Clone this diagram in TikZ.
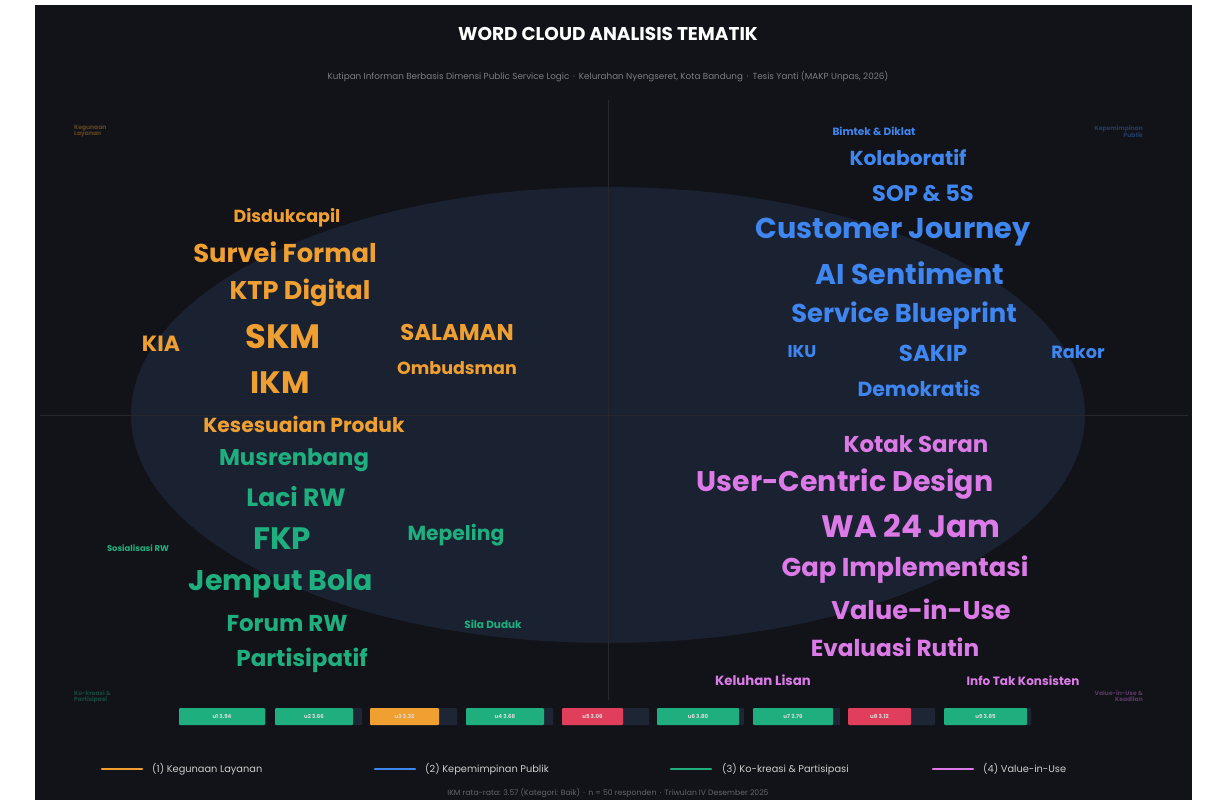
\documentclass[tikz,border=0pt]{standalone}
\usepackage{fontspec}
\setmainfont{Poppins}
\newcommand\myfs[1]{\bfseries\fontsize{#1}{#1}\selectfont}
\definecolor{bgc}{HTML}{121318}
\definecolor{ellc}{HTML}{1A2131}
\definecolor{orc}{HTML}{F0A030}
\definecolor{blc}{HTML}{3F86F0}
\definecolor{grc}{HTML}{1FAE7E}
\definecolor{pkc}{HTML}{DC7BE8}
\definecolor{rdc}{HTML}{E03E5A}
\definecolor{trk}{HTML}{1E2636}
\tikzset{
  wor/.style={text=orc, inner sep=0pt},
  wbl/.style={text=blc, inner sep=0pt},
  wgr/.style={text=grc, inner sep=0pt},
  wpk/.style={text=pkc, inner sep=0pt},
  qline/.style={draw=white!9!bgc, line width=0.6pt},
  track/.style={fill=trk, rounded corners=1pt},
  barlab/.style={text=white!85!black, font=\myfs{5.5}, inner sep=0pt},
  legline/.style={line width=2.6pt, line cap=round},
  legtext/.style={text=white!80!black, font=\fontsize{9.8}{10}\selectfont, anchor=west, inner sep=0pt},
  corner/.style={font=\myfs{6}, inner sep=0pt, align=left},
}
\begin{document}
\begin{tikzpicture}[x=1pt,y=-1pt]
\useasboundingbox (0,0) rectangle (1208,803);
\fill[white] (0,0) rectangle (1208,803);
\fill[bgc] (35,5) rectangle (1192,800);
\fill[ellc] (608,415) ellipse [x radius=477, y radius=228];
\coordinate (vt) at (608,100); \coordinate (vb) at (608,700);
\coordinate (hl) at (40,415); \coordinate (hr) at (1188,415);
\draw[qline] (vt) -- (vb);
\draw[qline] (hl) -- (hr);
% title
\node[text=white, font=\myfs{18.5}] (title) at (608,34) {WORD CLOUD ANALISIS TEMATIK};
\node[text=white!45!bgc, font=\fontsize{8.8}{9}\selectfont] (sub) at (608,77) {Kutipan Informan Berbasis Dimensi Public Service Logic \,·\, Kelurahan Nyengseret, Kota Bandung \,·\, Tesis Yanti (MAKP Unpas, 2026)};
% corner labels
\node[corner, text=orc!35!bgc, anchor=north west] (c1) at (74,125) {Kegunaan\\Layanan};
\node[corner, text=blc!35!bgc, anchor=north east, align=right] (c2) at (1143,125) {Kepemimpinan\\Publik};
\node[corner, text=grc!35!bgc, anchor=north west] (c3) at (74,690) {Ko-kreasi \&\\Partisipasi};
\node[corner, text=pkc!35!bgc, anchor=north east, align=right] (c4) at (1143,690) {Value-in-Use \&\\Keadilan};
% orange
\node[wor, font=\myfs{17.5}] (o1) at (287,218) {Disdukcapil};
\node[wor, font=\myfs{25.8}] (o2) at (285,252) {Survei Formal};
\node[wor, font=\myfs{25.6}] (o3) at (300,293) {KTP Digital};
\node[wor, font=\myfs{33.8}] (o4) at (283,337) {SKM};
\node[wor, font=\myfs{22.8}] (o5) at (457,332) {SALAMAN};
\node[wor, font=\myfs{22}] (o6) at (161,344) {KIA};
\node[wor, font=\myfs{17.5}] (o7) at (457,368) {Ombudsman};
\node[wor, font=\myfs{31}] (o8) at (280,383) {IKM};
\node[wor, font=\myfs{20.3}] (o9) at (304,424) {Kesesuaian Produk};
% green
\node[wgr, font=\myfs{22.8}] (g1) at (294,460) {Musrenbang};
\node[wgr, font=\myfs{25}] (g2) at (296,497) {Laci RW};
\node[wgr, font=\myfs{31}] (g3) at (282,539) {FKP};
\node[wgr, font=\myfs{20.3}] (g4) at (456,535) {Mepeling};
\node[wgr, font=\myfs{8.4}] (g5) at (138,548) {Sosialisasi RW};
\node[wgr, font=\myfs{28.4}] (g6) at (281,584) {Jemput Bola};
\node[wgr, font=\myfs{23}] (g7) at (287,624) {Forum RW};
\node[wgr, font=\myfs{10.5}] (g8) at (493,624) {Sila Duduk};
\node[wgr, font=\myfs{23}] (g9) at (302,660) {Partisipatif};
% blue
\node[wbl, font=\myfs{10.5}] (b1) at (874,131) {Bimtek \& Diklat};
\node[wbl, font=\myfs{20.2}] (b2) at (908,157) {Kolaboratif};
\node[wbl, font=\myfs{22.5}] (b3) at (923,193) {SOP \& 5S};
\node[wbl, font=\myfs{28.7}] (b4) at (893,232) {Customer Journey};
\node[wbl, font=\myfs{28.5}] (b5) at (910,273) {AI Sentiment};
\node[wbl, font=\myfs{25.8}] (b6) at (904,316) {Service Blueprint};
\node[wbl, font=\myfs{17}] (b7) at (802,352) {IKU};
\node[wbl, font=\myfs{23}] (b8) at (933,353) {SAKIP};
\node[wbl, font=\myfs{17.7}] (b9) at (1078,352) {Rakor};
\node[wbl, font=\myfs{20.4}] (b10) at (919,388) {Demokratis};
% pink
\node[wpk, font=\myfs{22.9}] (p1) at (916,444) {Kotak Saran};
\node[wpk, font=\myfs{28.4}] (p2) at (845,484) {User-Centric Design};
\node[wpk, font=\myfs{31}] (p3) at (911,526) {WA 24 Jam};
\node[wpk, font=\myfs{25.8}] (p4) at (905,570) {Gap Implementasi};
\node[wpk, font=\myfs{25.6}] (p5) at (921,609) {Value-in-Use};
\node[wpk, font=\myfs{23.2}] (p6) at (895,647) {Evaluasi Rutin};
\node[wpk, font=\myfs{13.3}] (p7) at (763,680) {Keluhan Lisan};
\node[wpk, font=\myfs{12}] (p8) at (1023,681) {Info Tak Konsisten};
% bars
\foreach \i/\x/\w/\c/\v in {1/179/86/grc/3.94, 2/275/78/grc/3.66, 3/370/69/orc/3.32, 4/466/78/grc/3.68, 5/562/61/rdc/3.06, 6/657/82/grc/3.80, 7/753/80/grc/3.76, 8/848/63/rdc/3.12, 9/944/83/grc/3.85}{
  \fill[track] (\x,708) rectangle ++(87,17);
  \fill[\c, rounded corners=1pt] (\x,708) rectangle ++(\w,17);
  \node[barlab] (bar\i) at (\x+\w/2,716.5) {u\i\ \v};
}
% legend
\coordinate (l1a) at (102,769); \coordinate (l1b) at (142,769);
\coordinate (l2a) at (375,769); \coordinate (l2b) at (415,769);
\coordinate (l3a) at (671,769); \coordinate (l3b) at (711,769);
\coordinate (l4a) at (933,769); \coordinate (l4b) at (973,769);
\draw[legline, orc] (l1a) -- (l1b);
\draw[legline, blc] (l2a) -- (l2b);
\draw[legline, grc] (l3a) -- (l3b);
\draw[legline, pkc] (l4a) -- (l4b);
\node[legtext] (t1) at (152,769) {(1) Kegunaan Layanan};
\node[legtext] (t2) at (425,769) {(2) Kepemimpinan Publik};
\node[legtext] (t3) at (722,769) {(3) Ko-kreasi \& Partisipasi};
\node[legtext] (t4) at (983,769) {(4) Value-in-Use};
\node[text=white!35!bgc, font=\fontsize{7.7}{8}\selectfont] (foot) at (608,793) {IKM rata-rata: 3.57 (Kategori: Baik) \,·\, n = 50 responden \,·\, Triwulan IV Desember 2025};
\end{tikzpicture}
\end{document}
